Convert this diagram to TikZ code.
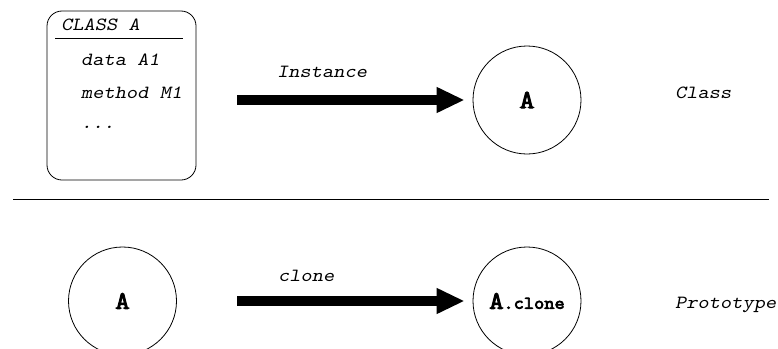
\documentclass[tikz,border=0pt]{standalone}
\usepackage{fontspec}
\usepackage{tikz}
\usetikzlibrary{arrows.meta}
\newfontfamily\courfont{Latin Modern Mono Slanted}[FakeStretch=1.15]
\newfontfamily\courbold{Latin Modern Mono}[FakeBold=4, FakeStretch=1.1]

\tikzset{
    lbl/.style={anchor=base west, inner sep=0pt, font=\courfont\fontsize{18.6}{22}\selectfont},
    obj/.style={draw, circle, line width=0.8pt, minimum size=108pt, inner sep=0pt, font=\courbold}
}
\tikzset{fatarrow/.style={line width=10pt, -{Triangle[width=24pt,length=28pt]}, shorten >=8pt}}

\begin{document}
\begin{tikzpicture}[x=1pt,y=-1pt]

        \useasboundingbox (0,0) rectangle (778,348);

        \coordinate (instStart) at (237,100);
        \coordinate (cloneStart) at (237,301);

        % class box
        \node[draw, line width=0.8pt, rounded corners=15pt, minimum width=149pt, minimum height=169pt] (classA) at (121.5,95.5) {};
        \node[lbl] (title) at (61,30) {CLASS A};
        \draw[line width=0.8pt] (55,38) -- (183,38);
        \node[lbl] (dataA) at (81,65) {data A1};
        \node[lbl] (methM) at (81,98) {method M1};
        \node[lbl] (dots) at (81,128) {...};

        \node[obj, font=\courbold\fontsize{26}{28}\selectfont] (objA) at (527,100) {A};
        \draw[fatarrow] (instStart) -- (objA);
        \node[lbl] (instLbl) at (277,77) {Instance};
        \node[lbl] (classLbl) at (675,98) {Class};

        \draw[line width=0.8pt] (13,199) -- (769,199);

        \node[obj, font=\courbold\fontsize{25}{28}\selectfont] (protoA) at (122.5,301) {A};
        \node[obj] (cloneA) at (527,301) {{\fontsize{25}{28}\selectfont A}{\fontsize{18}{22}\selectfont.clone}};
        \draw[fatarrow] (cloneStart) -- (cloneA);
        \node[lbl] (cloneLbl) at (278,281) {clone};
        \node[lbl] (protoLbl) at (675,308) {Prototype};

    \end{tikzpicture}
\end{document}
